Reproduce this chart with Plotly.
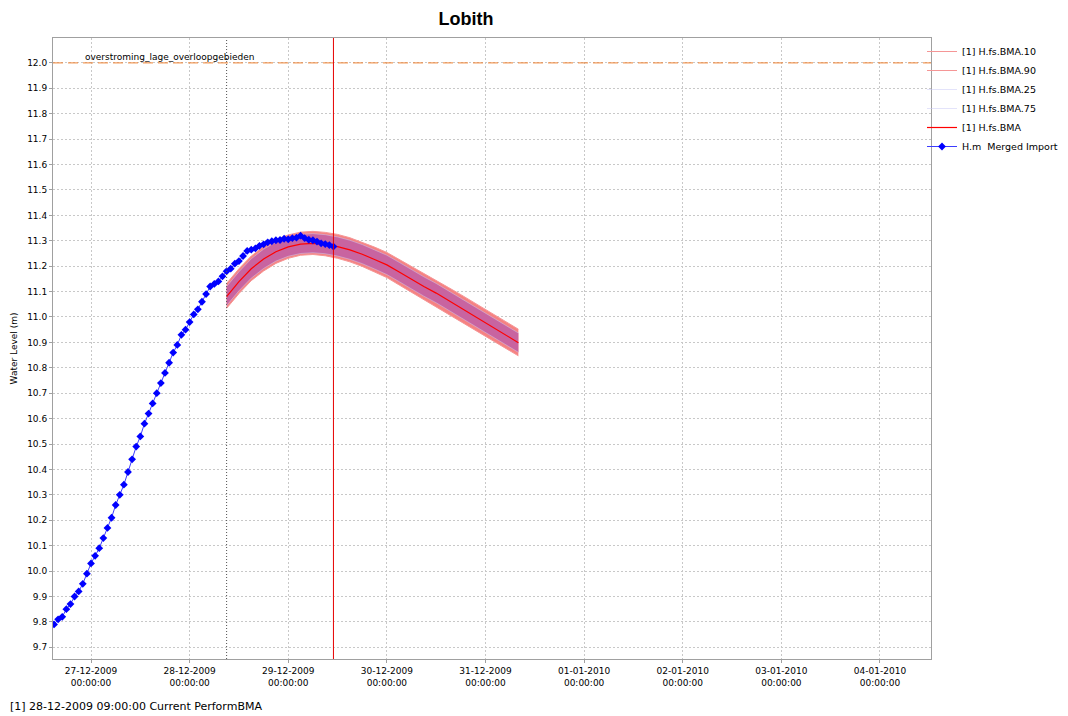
import pandas as pd
import plotly.graph_objects as go

# ---------------- data ----------------
obs_start = "2009-12-26 15:00"
obs_values = [9.79, 9.81, 9.82, 9.85, 9.87, 9.90, 9.92, 9.95, 9.99,
              10.03, 10.06, 10.09, 10.13, 10.17, 10.21, 10.26, 10.30, 10.34,
              10.39, 10.44, 10.49, 10.53, 10.58, 10.62, 10.66, 10.70, 10.74,
              10.78, 10.82, 10.86, 10.89, 10.93, 10.95,
              10.98, 11.01, 11.03, 11.06, 11.09, 11.12, 11.13, 11.14, 11.16,
              11.18, 11.19, 11.21, 11.22, 11.24, 11.26, 11.265, 11.27, 11.28,
              11.286, 11.294, 11.298, 11.302, 11.303, 11.308,
              11.306, 11.31, 11.312, 11.32, 11.31, 11.304, 11.302, 11.297,
              11.29, 11.287, 11.283, 11.277]

fc_times = ["2009-12-28 09:00", "2009-12-28 12:00", "2009-12-28 15:00", "2009-12-28 18:00",
            "2009-12-28 21:00", "2009-12-29 00:00", "2009-12-29 03:00", "2009-12-29 06:00",
            "2009-12-29 09:00", "2009-12-29 12:00", "2009-12-29 15:00", "2009-12-29 18:00",
            "2009-12-29 21:00", "2009-12-30 00:00", "2009-12-30 03:00", "2009-12-30 06:00",
            "2009-12-30 09:00", "2009-12-30 12:00", "2009-12-30 15:00", "2009-12-30 18:00",
            "2009-12-30 21:00", "2009-12-31 00:00", "2009-12-31 03:00", "2009-12-31 06:00",
            "2009-12-31 08:00"]
bma = [11.080, 11.139, 11.190, 11.228, 11.257, 11.276, 11.287, 11.290, 11.286, 11.277,
       11.264, 11.247, 11.226, 11.205, 11.177, 11.148, 11.120, 11.094, 11.065, 11.036,
       11.007, 10.977, 10.946, 10.917, 10.899]
bma_90 = [11.132, 11.190, 11.240, 11.277, 11.305, 11.323, 11.334, 11.337, 11.333, 11.325,
          11.312, 11.295, 11.275, 11.254, 11.227, 11.198, 11.170, 11.145, 11.116, 11.088,
          11.059, 11.029, 10.999, 10.970, 10.952]
bma_10 = [11.034, 11.092, 11.143, 11.181, 11.211, 11.231, 11.243, 11.246, 11.241, 11.231,
          11.217, 11.199, 11.177, 11.155, 11.126, 11.097, 11.069, 11.042, 11.013, 10.984,
          10.955, 10.925, 10.894, 10.865, 10.847]
bma_75 = [11.120, 11.178, 11.229, 11.267, 11.295, 11.314, 11.325, 11.328, 11.324, 11.315,
          11.302, 11.285, 11.264, 11.243, 11.215, 11.186, 11.158, 11.132, 11.103, 11.074,
          11.045, 11.015, 10.984, 10.955, 10.937]
bma_25 = [11.045, 11.103, 11.153, 11.191, 11.220, 11.239, 11.250, 11.253, 11.249, 11.240,
          11.227, 11.210, 11.189, 11.167, 11.139, 11.110, 11.082, 11.056, 11.027, 10.998,
          10.969, 10.939, 10.908, 10.879, 10.861]

threshold_value = 12.0
threshold_label = "overstroming_lage_overloopgebieden"
t0 = "2009-12-28 09:00"
now_time = "2009-12-29 11:00"
tick_dates = pd.date_range("2009-12-27", "2010-01-04", freq="D")
footer = "[1] 28-12-2009 09:00:00 Current PerformBMA"

obs_times = pd.date_range(obs_start, periods=len(obs_values), freq="h")
fc_times = pd.to_datetime(fc_times)

FONT = "DejaVu Sans"
W, H = 1060, 708
ML, MR, MT, MB = 45, 137, 30, 57
PW, PH = W - ML - MR, H - MT - MB

fig = go.Figure()

# band fills (no legend)
fig.add_trace(go.Scatter(x=fc_times, y=bma_10, mode="lines", line=dict(width=0),
                         showlegend=False, hoverinfo="skip"))
fig.add_trace(go.Scatter(x=fc_times, y=bma_90, mode="lines", line=dict(width=0),
                         fill="tonexty", fillcolor="rgb(246,130,130)",
                         showlegend=False, hoverinfo="skip"))
fig.add_trace(go.Scatter(x=fc_times, y=bma_25, mode="lines", line=dict(width=0),
                         showlegend=False, hoverinfo="skip"))
fig.add_trace(go.Scatter(x=fc_times, y=bma_75, mode="lines", line=dict(width=0),
                         fill="tonexty", fillcolor="rgb(200,100,160)",
                         showlegend=False, hoverinfo="skip"))

# legend lines
fig.add_trace(go.Scatter(x=fc_times, y=bma_10, mode="lines", name="[1] H.fs.BMA.10",
                         line=dict(color="rgb(245,150,150)", width=1)))
fig.add_trace(go.Scatter(x=fc_times, y=bma_90, mode="lines", name="[1] H.fs.BMA.90",
                         line=dict(color="rgb(245,150,150)", width=1)))
fig.add_trace(go.Scatter(x=fc_times, y=bma_25, mode="lines", name="[1] H.fs.BMA.25",
                         line=dict(color="rgba(200,200,245,0.5)", width=1)))
fig.add_trace(go.Scatter(x=fc_times, y=bma_75, mode="lines", name="[1] H.fs.BMA.75",
                         line=dict(color="rgba(200,200,245,0.5)", width=1)))
fig.add_trace(go.Scatter(x=fc_times, y=bma, mode="lines", name="[1] H.fs.BMA",
                         line=dict(color="rgb(255,0,0)", width=1.2)))
fig.add_trace(go.Scatter(x=obs_times, y=obs_values, mode="lines+markers",
                         name="H.m  Merged Import",
                         line=dict(color="rgb(60,60,255)", width=1),
                         marker=dict(symbol="diamond", size=6, color="rgb(0,0,255)")))

# threshold line
fig.add_hline(y=threshold_value, line=dict(color="rgb(240,130,50)", width=1, dash="10px,5px"))
fig.add_annotation(x="2009-12-26 22:00", y=threshold_value, xref="x", yref="y",
                   text=threshold_label, showarrow=False, xanchor="left", yanchor="bottom",
                   yshift=-1, font=dict(family=FONT, size=9, color="black"))
# T0 and now lines
fig.add_vline(x=t0, line=dict(color="rgb(80,80,80)", width=1, dash="1px,2px"))
fig.add_vline(x=now_time, line=dict(color="rgb(230,0,0)", width=1))

fig.add_annotation(x=-ML / PW, y=-(699 - (MT + PH)) / PH, xref="paper", yref="paper",
                   text=footer, showarrow=False, xanchor="left", yanchor="middle",
                   font=dict(family=FONT, size=11, color="black"))

fig.update_layout(
    width=W, height=H,
    margin=dict(l=ML, r=MR, t=MT, b=MB, autoexpand=False),
    paper_bgcolor="white", plot_bgcolor="white",
    title=dict(text="<b>Lobith</b>", x=458 / W, xref="container", xanchor="center",
               y=1 - 11 / H, yref="container", yanchor="middle",
               font=dict(family="Liberation Sans", size=18, color="black")),
    font=dict(family=FONT, size=9, color="black"),
    legend=dict(xref="container", yref="container", x=914 / W, xanchor="left",
                y=1 - 29 / H, yanchor="top", bgcolor="rgba(0,0,0,0)",
                font=dict(family=FONT, size=9.5), itemwidth=30, tracegroupgap=0,
                traceorder="normal", borderwidth=0),
    showlegend=True,
)

fig.update_xaxes(
    range=["2009-12-26 14:45", "2010-01-04 12:25"], type="date",
    tickvals=tick_dates, ticktext=[d.strftime("%d-%m-%Y<br>%H:%M:%S") for d in tick_dates],
    showgrid=True, gridcolor="rgb(200,200,200)", griddash="2px,2px", gridwidth=1,
    showline=True, linecolor="rgb(160,160,160)", linewidth=1, mirror=True,
    ticks="outside", ticklen=3, tickcolor="rgb(160,160,160)", zeroline=False,
    tickfont=dict(family=FONT, size=9), automargin=False,
)
fig.update_yaxes(
    range=[9.654, 12.098], dtick=0.1, tick0=9.7, tickformat=".1f",
    title=dict(text="Water Level (m)", font=dict(family=FONT, size=9), standoff=8),
    showgrid=True, gridcolor="rgb(200,200,200)", griddash="2px,2px", gridwidth=1,
    showline=True, linecolor="rgb(160,160,160)", linewidth=1, mirror=True,
    ticks="outside", ticklen=3, tickcolor="rgb(160,160,160)", zeroline=False,
    tickfont=dict(family=FONT, size=9), automargin=False,
)

fig.write_html("out.html")
